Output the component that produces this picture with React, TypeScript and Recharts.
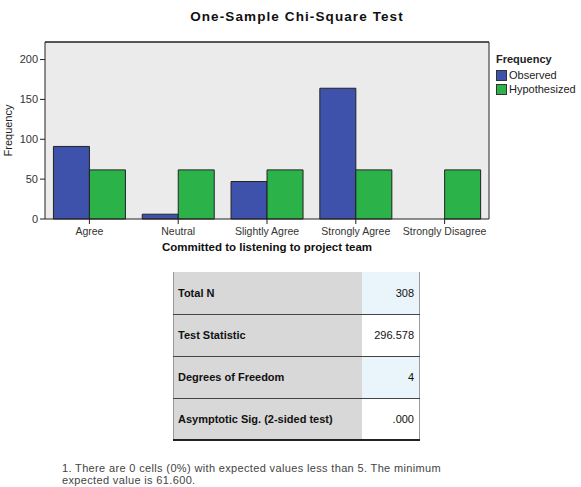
import React from "react";
import { BarChart, Bar, XAxis, YAxis, CartesianGrid, ReferenceLine } from "recharts";

const categories = ["Agree", "Neutral", "Slightly Agree", "Strongly Agree", "Strongly Disagree"];
const observed = [91, 6, 47, 164, 0];
const hypothesized = [61.6, 61.6, 61.6, 61.6, 61.6];
const yTicks = [0, 50, 100, 150, 200];
const yMax = 222;
const tableLabels = ["Total N", "Test Statistic", "Degrees of Freedom", "Asymptotic Sig. (2-sided test)"];
const tableValues = ["308", "296.578", "4", ".000"];
const footnoteLines = [
  "1.  There are 0 cells (0%) with expected values less than 5.  The minimum",
  "expected value is 61.600.",
];

const data = categories.map((c, i) => ({ name: c, Observed: observed[i], Hypothesized: hypothesized[i] }));

const FONT = "'Liberation Sans', Arial, sans-serif";
const BLUE = "#3e52ab";
const GREEN = "#2bb34a";

export default function App() {
  return (
    <div style={{ position: "absolute", left: 0, top: 0, width: 581, height: 487, background: "#fff", fontFamily: FONT }}>
      <div style={{ position: "absolute", left: 0, width: 594, top: 9, textAlign: "center", fontWeight: "bold", fontSize: 13.5, letterSpacing: 1.1, color: "#111" }}>
        One-Sample Chi-Square Test
      </div>
      <div style={{ position: "absolute", left: 0, top: 0 }}>
        <BarChart
          width={581}
          height={260}
          data={data}
          margin={{ top: 42, right: 91, bottom: 11, left: 0 }}
          barCategoryGap="9.5%"
          barGap={0}
        >
          <CartesianGrid horizontal={false} vertical={false} fill="#ebebeb" fillOpacity={1} />
          <XAxis
            dataKey="name"
            height={30}
            tickLine={{ stroke: "#222" }}
            tickSize={5}
            axisLine={{ stroke: "#222" }}
            tick={{ fontSize: 10.5, fill: "#333", fontFamily: FONT, dy: 2 }}
            interval={0}
            label={{ value: "Committed to listening to project team", position: "insideBottom", offset: -2, style: { fontSize: 11.5, fontWeight: "bold", fill: "#111", fontFamily: FONT } }}
          />
          <YAxis
            width={45}
            domain={[0, yMax]}
            ticks={yTicks}
            tickSize={5}
            tickLine={{ stroke: "#222" }}
            axisLine={{ stroke: "#222" }}
            tick={{ fontSize: 11, fill: "#333", fontFamily: FONT }}
            label={{ value: "Frequency", angle: -90, position: "insideLeft", offset: 8, style: { fontSize: 11, fill: "#222", fontFamily: FONT, textAnchor: "middle" } }}
          />
          <YAxis yAxisId="r" orientation="right" width={1} domain={[0, yMax]} tick={false} tickLine={false} axisLine={{ stroke: "#222" }} />
          <ReferenceLine y={yMax} stroke="#222" strokeWidth={1.5} ifOverflow="extendDomain" />
          <Bar dataKey="Observed" fill={BLUE} stroke="#222" strokeWidth={1} isAnimationActive={false} />
          <Bar dataKey="Hypothesized" fill={GREEN} stroke="#222" strokeWidth={1} isAnimationActive={false} />
        </BarChart>
      </div>
      <div style={{ position: "absolute", left: 496, top: 53, fontFamily: FONT, fontSize: 11, color: "#222" }}>
        <div style={{ fontWeight: "bold", marginBottom: 3 }}>Frequency</div>
        {[["Observed", BLUE], ["Hypothesized", GREEN]].map(([n, c]) => (
          <div key={n} style={{ display: "flex", alignItems: "center", height: 14 }}>
            <span style={{ width: 9, height: 9, background: c, border: "1px solid #333", marginRight: 2, display: "inline-block" }} />
            <span>{n}</span>
          </div>
        ))}
      </div>
      <table
        style={{
          position: "absolute",
          left: 173,
          top: 272,
          width: 247,
          borderCollapse: "collapse",
          fontFamily: FONT,
          fontSize: 11,
          color: "#111",
          borderLeft: "1px solid #999",
          borderRight: "1px solid #999",
          borderBottom: "2px solid #222",
        }}
      >
        <tbody>
          {tableLabels.map((l, i) => (
            <tr key={l} style={{ height: 42 }}>
              <td style={{ background: "#d8d8d8", fontWeight: "bold", padding: "0 4px", width: 180, borderTop: i === 0 ? "none" : "1px solid #444" }}>{l}</td>
              <td style={{ background: i % 2 === 0 ? "#eaf4fb" : "#ffffff", textAlign: "right", padding: "0 5px", borderTop: i === 0 ? "none" : "1px solid #444" }}>{tableValues[i]}</td>
            </tr>
          ))}
        </tbody>
      </table>
      <div style={{ position: "absolute", left: 62, top: 462, fontSize: 11, letterSpacing: 0.35, lineHeight: "12px", color: "#444", fontFamily: FONT }}>
        {footnoteLines.map((t) => (
          <div key={t}>{t}</div>
        ))}
      </div>
    </div>
  );
}
